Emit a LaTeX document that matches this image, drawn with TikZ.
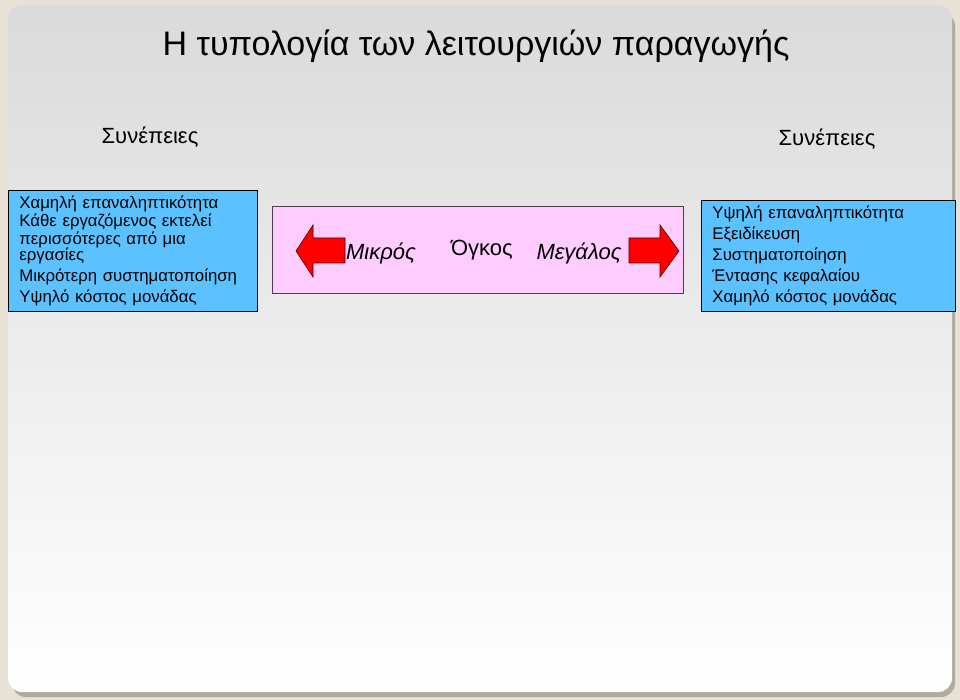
\documentclass[tikz,border=0pt]{standalone}
\usepackage{fontspec}
\setmainfont{Liberation Sans}
\usetikzlibrary{positioning,shadings}
\definecolor{pagebg}{RGB}{232,226,214}
\definecolor{slidetop}{RGB}{218,218,218}
\definecolor{slidebot}{RGB}{255,255,255}
\definecolor{slideshadow}{RGB}{178,170,160}
\definecolor{boxblue}{RGB}{92,194,255}
\definecolor{boxpink}{RGB}{255,204,255}
\definecolor{boxedge}{RGB}{80,60,80}
\tikzset{
  infobox/.style={draw=black, fill=boxblue, line width=0.8pt, anchor=north west, inner xsep=11pt, align=left,
    font=\fontsize{16.8}{20.8}\selectfont},
  redarrow/.style={draw=black!70!red, fill=red, line width=0.6pt},
  scaletext/.style={font=\fontsize{22}{24}\selectfont}
}
\begin{document}
\begin{tikzpicture}[x=1pt,y=-1pt]
\useasboundingbox (0,0) rectangle (960,700);
\fill[pagebg] (0,0) rectangle (960,700);
% slide
\fill[slideshadow, rounded corners=14pt] (12,12) rectangle (955,697);
\shade[top color=slidetop, bottom color=slidebot, rounded corners=14pt] (8,5) rectangle (952,692);
\node (title) at (476,46) {\fontsize{34}{36}\selectfont Η τυπολογία των λειτουργιών παραγωγής};
\node (lefthead) at (150,137) {\fontsize{22}{24}\selectfont Συνέπειες};
\node (righthead) at (827,139) {\fontsize{22}{24}\selectfont Συνέπειες};
% left box
\node[infobox, minimum width=249pt, minimum height=121pt, text width=227pt] (smallbox) at (8,190)
  {Χαμηλή επαναληπτικότητα\\[-3pt]Κάθε εργαζόμενος εκτελεί\\[-2pt]περισσότερες από μια\\[-4.8pt]εργασίες\\Μικρότερη συστηματοποίηση\\Υψηλό κόστος μονάδας};
% right box
\node[infobox, minimum width=254pt, minimum height=111pt, text width=232pt] (largebox) at (701,200)
  {Υψηλή επαναληπτικότητα\\Εξειδίκευση\\Συστηματοποίηση\\Έντασης κεφαλαίου\\Χαμηλό κόστος μονάδας};
% middle box
\node[draw=boxedge, fill=boxpink, line width=0.8pt, anchor=north west, minimum width=411pt, minimum height=87pt] (volume) at (272,206) {};
\draw[redarrow] (296,251) -- (313,225) -- (313,238) -- (345,238) -- (345,263) -- (313,263) -- (313,277) -- cycle;
\draw[redarrow] (679,251) -- (660,225) -- (660,238) -- (629,238) -- (629,263) -- (660,263) -- (660,277) -- cycle;
\node[scaletext] (small) at (381,253) {\itshape Μικρός};
\node[scaletext] (vol) at (482,250) {Όγκος};
\node[scaletext] (large) at (579,253) {\itshape Μεγάλος};
\end{tikzpicture}
\end{document}
